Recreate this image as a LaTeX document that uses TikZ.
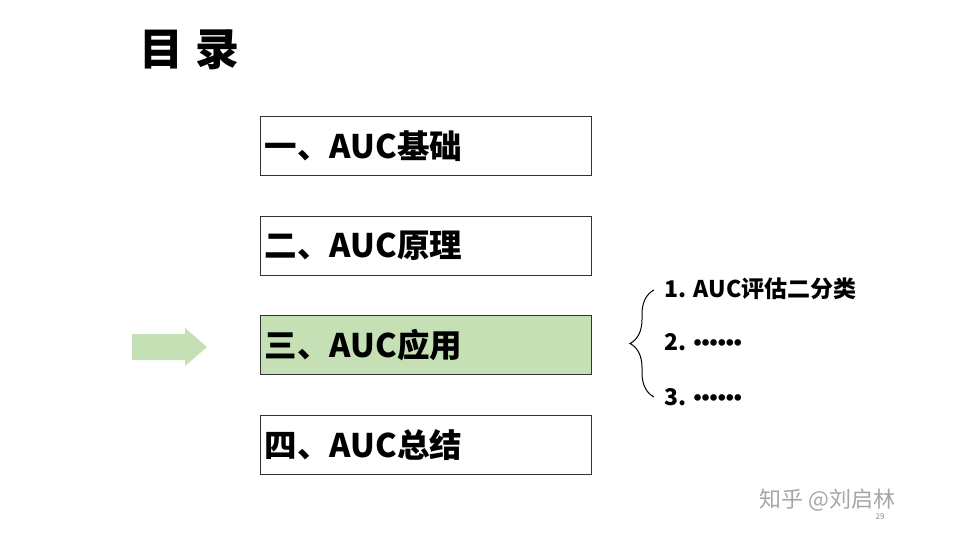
\documentclass[tikz,border=0pt]{standalone}
\usepackage{fontspec}
\setmainfont{Noto Sans CJK SC}
\newfontfamily\lat{Liberation Sans}
\usetikzlibrary{decorations.pathreplacing}
\definecolor{lg}{HTML}{C5E0B4}
\begin{document}
\begin{tikzpicture}[x=1pt,y=-1pt,
  box/.style={draw=black!80,line width=0.8pt,minimum width=331pt,minimum height=59pt,anchor=north west,text width=322pt,align=left,inner sep=4pt,font=\fontsize{32.5}{35}\selectfont\bfseries},
  item/.style={anchor=west,font=\fontsize{23}{25}\selectfont\bfseries}]
\useasboundingbox (0,0) rectangle (960,540);
\node[anchor=west,font=\fontsize{44}{48}\selectfont\bfseries] (title) at (136,50) {目\hspace{12pt}录};
\node[box] (b1) at (260,116) {一、AUC基础};
\node[box] (b2) at (260,216) {二、AUC原理};
\node[box,fill=lg] (b3) at (260,315) {三、AUC应用};
\node[box] (b4) at (260,415) {四、AUC总结};
\fill[lg] (132,334) -- (185,334) -- (185,328) -- (207,347) -- (185,366) -- (185,360) -- (132,360) -- cycle;
\draw[line width=1pt,decorate,decoration={brace,amplitude=24pt,aspect=0.5}] (654,397) -- (654,290);
\node[item] (i1) at (661,289) {1. AUC评估二分类};
\node[item] (i2) at (661,342) {2. {\lat\bfseries ••••••}};
\node[item] (i3) at (661,397) {3. {\lat\bfseries ••••••}};
\node[anchor=west,text=black!35,font=\fontsize{22}{24}\selectfont] (wm) at (756,500) {知乎 @刘启林};
\node[text=black!45,font=\fontsize{8}{9}\selectfont] (pg) at (880,517) {29};
\end{tikzpicture}
\end{document}
